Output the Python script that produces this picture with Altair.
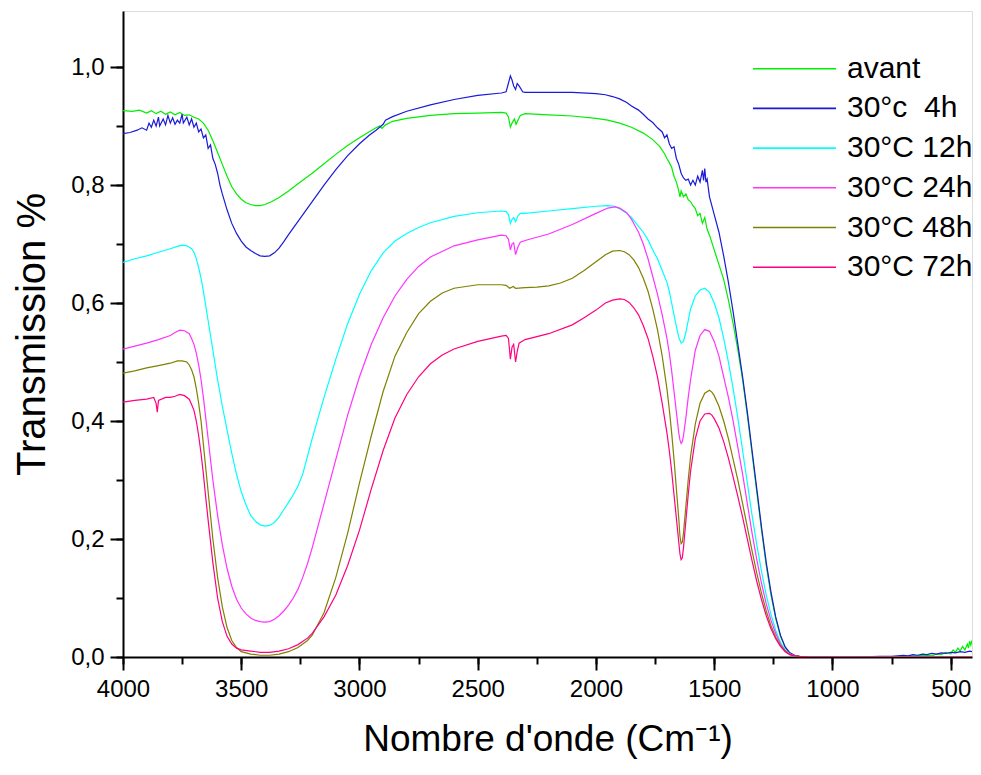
import altair as alt
import pandas as pd

SERIES = ["avant", "30°c \u00a04h", "30°C 12h", "30°C 24h", "30°C 48h", "30°C 72h"]
COLORS = ["#00ee00", "#1a1ad8", "#00ffff", "#ff33ff", "#808000", "#ff0080"]

X_TICKS = [4000, 3500, 3000, 2500, 2000, 1500, 1000, 500]
X_MINOR = [4000, 3750, 3500, 3250, 3000, 2750, 2500, 2250, 2000, 1750, 1500, 1250, 1000, 750, 500]
Y_TICKS = [0.0, 0.2, 0.4, 0.6, 0.8, 1.0]
Y_MINOR = [0.0, 0.1, 0.2, 0.3, 0.4, 0.5, 0.6, 0.7, 0.8, 0.9, 1.0]

# (wavenumber cm-1, transmission)
AVANT = [(4000,0.926),(3960,0.925),(3930,0.927),(3900,0.922),(3880,0.926),(3860,0.921),(3840,0.925),(3820,0.920),(3800,0.924),(3780,0.919),(3760,0.923),(3740,0.918),(3720,0.919),(3700,0.915),(3680,0.912),(3660,0.905),(3640,0.893),(3620,0.875),(3600,0.855),(3580,0.835),(3560,0.815),(3540,0.797),(3520,0.785),(3500,0.776),(3480,0.770),(3460,0.767),(3440,0.765),(3420,0.765),(3400,0.767),(3370,0.772),(3340,0.779),(3300,0.790),(3250,0.805),(3200,0.820),(3150,0.836),(3100,0.852),(3050,0.867),(3000,0.880),(2960,0.890),(2930,0.897),(2915,0.900),(2905,0.896),(2890,0.902),(2860,0.908),(2800,0.913),(2700,0.918),(2600,0.921),(2500,0.922),(2400,0.923),(2380,0.922),(2370,0.915),(2362,0.898),(2355,0.905),(2345,0.912),(2338,0.903),(2330,0.910),(2320,0.918),(2300,0.921),(2200,0.919),(2100,0.917),(2000,0.913),(1950,0.910),(1900,0.905),(1850,0.898),(1800,0.888),(1760,0.877),(1730,0.865),(1710,0.853),(1700,0.845),(1690,0.838),(1680,0.830),(1670,0.815),(1660,0.805),(1650,0.790),(1645,0.780),(1640,0.790),(1630,0.780),(1620,0.785),(1610,0.775),(1600,0.772),(1590,0.765),(1580,0.760),(1570,0.748),(1560,0.752),(1550,0.735),(1540,0.745),(1530,0.725),(1520,0.715),(1500,0.690),(1480,0.665),(1460,0.640),(1440,0.605),(1420,0.565),(1400,0.520),(1380,0.470),(1360,0.410),(1340,0.345),(1320,0.280),(1300,0.215),(1280,0.155),(1260,0.105),(1240,0.065),(1220,0.035),(1200,0.016),(1180,0.006),(1160,0.002),(1140,0.001),(1100,0.0),(1000,0.0),(900,0.0),(800,0.0),(700,0.001),(650,0.002),(600,0.003),(580,0.002),(560,0.005),(540,0.004),(520,0.008),(500,0.005),(490,0.012),(480,0.008),(470,0.015),(460,0.010),(450,0.018),(440,0.012),(430,0.022),(425,0.015),(420,0.027),(415,0.020),(410,0.028)]

H4 = [(4000,0.887),(3970,0.889),(3940,0.893),(3920,0.897),(3900,0.893),(3890,0.905),(3880,0.898),(3870,0.910),(3860,0.900),(3850,0.915),(3845,0.900),(3830,0.912),(3820,0.902),(3810,0.918),(3800,0.905),(3790,0.914),(3780,0.903),(3770,0.910),(3760,0.905),(3750,0.920),(3745,0.905),(3730,0.915),(3720,0.902),(3710,0.912),(3700,0.898),(3690,0.905),(3680,0.890),(3670,0.895),(3660,0.880),(3650,0.885),(3640,0.862),(3630,0.868),(3620,0.845),(3610,0.835),(3600,0.820),(3590,0.800),(3580,0.785),(3560,0.758),(3540,0.735),(3520,0.718),(3500,0.705),(3480,0.695),(3460,0.689),(3440,0.684),(3420,0.680),(3400,0.679),(3380,0.680),(3360,0.685),(3340,0.693),(3320,0.704),(3300,0.716),(3250,0.744),(3200,0.772),(3150,0.800),(3100,0.826),(3050,0.850),(3000,0.870),(2960,0.884),(2930,0.893),(2915,0.898),(2900,0.903),(2890,0.910),(2860,0.916),(2800,0.925),(2700,0.936),(2600,0.945),(2500,0.952),(2400,0.956),(2380,0.958),(2372,0.970),(2362,0.985),(2355,0.978),(2348,0.968),(2340,0.962),(2333,0.972),(2325,0.968),(2310,0.958),(2300,0.957),(2200,0.957),(2100,0.957),(2000,0.955),(1960,0.953),(1930,0.950),(1900,0.946),(1870,0.940),(1850,0.934),(1820,0.927),(1800,0.920),(1780,0.912),(1760,0.906),(1740,0.897),(1720,0.890),(1710,0.880),(1700,0.885),(1690,0.870),(1680,0.862),(1670,0.865),(1660,0.845),(1650,0.835),(1640,0.820),(1630,0.812),(1620,0.808),(1610,0.810),(1600,0.800),(1590,0.808),(1580,0.800),(1570,0.815),(1560,0.805),(1550,0.825),(1545,0.808),(1540,0.828),(1535,0.805),(1530,0.810),(1520,0.780),(1500,0.750),(1480,0.720),(1460,0.680),(1440,0.635),(1420,0.585),(1400,0.530),(1380,0.475),(1360,0.415),(1340,0.350),(1320,0.285),(1300,0.220),(1280,0.160),(1260,0.110),(1240,0.068),(1220,0.037),(1200,0.017),(1180,0.007),(1160,0.003),(1140,0.001),(1100,0.0),(1000,0.0),(900,0.0),(800,0.001),(750,0.001),(700,0.003),(680,0.002),(660,0.004),(640,0.003),(620,0.005),(600,0.004),(580,0.006),(560,0.005),(540,0.007),(520,0.006),(500,0.008),(480,0.007),(460,0.009),(440,0.008),(420,0.010),(410,0.009)]

H12 = [(4000,0.669),(3950,0.675),(3900,0.680),(3850,0.686),(3800,0.692),(3770,0.696),(3750,0.698),(3730,0.697),(3710,0.692),(3700,0.686),(3690,0.675),(3680,0.660),(3670,0.642),(3660,0.620),(3650,0.595),(3640,0.570),(3620,0.520),(3600,0.470),(3580,0.425),(3560,0.385),(3540,0.345),(3520,0.310),(3500,0.280),(3480,0.258),(3460,0.240),(3440,0.230),(3420,0.224),(3400,0.222),(3380,0.223),(3360,0.228),(3340,0.237),(3320,0.250),(3300,0.262),(3280,0.275),(3260,0.290),(3240,0.310),(3220,0.340),(3200,0.370),(3150,0.440),(3100,0.505),(3050,0.565),(3000,0.615),(2950,0.655),(2900,0.685),(2850,0.705),(2800,0.718),(2750,0.728),(2700,0.736),(2600,0.747),(2500,0.753),(2400,0.756),(2380,0.755),(2370,0.750),(2362,0.735),(2355,0.742),(2348,0.745),(2340,0.738),(2330,0.748),(2320,0.752),(2300,0.752),(2200,0.756),(2100,0.760),(2000,0.764),(1950,0.765),(1920,0.764),(1900,0.760),(1870,0.752),(1850,0.745),(1820,0.730),(1800,0.720),(1780,0.707),(1760,0.690),(1740,0.675),(1720,0.655),(1700,0.635),(1690,0.620),(1680,0.600),(1670,0.580),(1660,0.560),(1650,0.542),(1640,0.532),(1630,0.535),(1620,0.550),(1610,0.570),(1600,0.590),(1580,0.612),(1560,0.622),(1540,0.625),(1520,0.618),(1500,0.600),(1480,0.575),(1460,0.540),(1440,0.500),(1420,0.455),(1400,0.405),(1380,0.350),(1360,0.295),(1340,0.240),(1320,0.190),(1300,0.145),(1280,0.105),(1260,0.072),(1240,0.045),(1220,0.025),(1200,0.012),(1180,0.005),(1160,0.002),(1140,0.001),(1100,0.0),(410,0.0)]

H24 = [(4000,0.522),(3950,0.527),(3900,0.532),(3850,0.538),(3800,0.545),(3780,0.550),(3760,0.554),(3740,0.553),(3720,0.548),(3710,0.540),(3700,0.530),(3690,0.515),(3680,0.495),(3670,0.470),(3660,0.440),(3650,0.405),(3640,0.370),(3620,0.300),(3600,0.240),(3580,0.190),(3560,0.150),(3540,0.120),(3520,0.098),(3500,0.083),(3480,0.073),(3460,0.066),(3440,0.062),(3420,0.060),(3400,0.059),(3380,0.060),(3360,0.064),(3340,0.070),(3320,0.078),(3300,0.088),(3280,0.100),(3260,0.115),(3240,0.135),(3220,0.158),(3200,0.185),(3150,0.260),(3100,0.335),(3050,0.410),(3000,0.475),(2950,0.530),(2900,0.575),(2850,0.612),(2800,0.640),(2750,0.662),(2700,0.678),(2600,0.697),(2500,0.707),(2400,0.715),(2380,0.714),(2370,0.708),(2362,0.690),(2355,0.700),(2348,0.702),(2340,0.682),(2330,0.695),(2320,0.703),(2300,0.706),(2200,0.717),(2100,0.733),(2000,0.752),(1950,0.761),(1920,0.763),(1900,0.761),(1870,0.753),(1850,0.742),(1820,0.720),(1800,0.700),(1780,0.675),(1760,0.645),(1740,0.615),(1720,0.580),(1700,0.540),(1690,0.515),(1680,0.485),(1670,0.450),(1660,0.415),(1650,0.380),(1645,0.368),(1640,0.362),(1635,0.365),(1630,0.375),(1620,0.405),(1610,0.440),(1600,0.470),(1580,0.520),(1560,0.545),(1540,0.555),(1520,0.552),(1500,0.535),(1480,0.510),(1460,0.475),(1440,0.440),(1420,0.400),(1400,0.355),(1380,0.310),(1360,0.260),(1340,0.210),(1320,0.165),(1300,0.125),(1280,0.090),(1260,0.062),(1240,0.040),(1220,0.022),(1200,0.011),(1180,0.005),(1160,0.002),(1140,0.001),(1100,0.0),(410,0.0)]

H48 = [(4000,0.481),(3950,0.485),(3900,0.490),(3850,0.494),(3800,0.498),(3770,0.502),(3750,0.502),(3730,0.500),(3720,0.495),(3710,0.487),(3700,0.475),(3690,0.455),(3680,0.430),(3670,0.400),(3660,0.360),(3650,0.320),(3640,0.280),(3620,0.200),(3600,0.135),(3580,0.085),(3560,0.050),(3540,0.028),(3520,0.016),(3500,0.009),(3460,0.005),(3420,0.003),(3380,0.003),(3340,0.005),(3300,0.009),(3260,0.016),(3220,0.028),(3200,0.037),(3150,0.075),(3100,0.135),(3050,0.210),(3000,0.295),(2950,0.375),(2900,0.450),(2850,0.510),(2800,0.550),(2750,0.582),(2700,0.603),(2650,0.617),(2600,0.625),(2500,0.631),(2400,0.631),(2380,0.630),(2365,0.625),(2350,0.628),(2340,0.625),(2300,0.626),(2250,0.627),(2200,0.629),(2150,0.634),(2100,0.642),(2050,0.655),(2000,0.670),(1960,0.682),(1930,0.688),(1900,0.689),(1880,0.687),(1860,0.682),(1840,0.673),(1820,0.660),(1800,0.642),(1780,0.620),(1760,0.590),(1740,0.555),(1720,0.510),(1700,0.455),(1690,0.420),(1680,0.380),(1670,0.335),(1660,0.285),(1650,0.235),(1645,0.205),(1640,0.192),(1635,0.195),(1630,0.210),(1620,0.255),(1610,0.300),(1600,0.340),(1580,0.395),(1560,0.430),(1540,0.447),(1520,0.452),(1510,0.449),(1500,0.443),(1480,0.425),(1460,0.400),(1440,0.370),(1420,0.335),(1400,0.300),(1380,0.260),(1360,0.220),(1340,0.180),(1320,0.142),(1300,0.108),(1280,0.078),(1260,0.053),(1240,0.034),(1220,0.020),(1200,0.010),(1180,0.004),(1160,0.002),(1140,0.001),(1100,0.0),(410,0.0)]

H72 = [(4000,0.432),(3950,0.435),(3900,0.437),(3870,0.440),(3860,0.430),(3855,0.415),(3850,0.435),(3820,0.440),(3800,0.440),(3780,0.442),(3760,0.445),(3740,0.443),(3720,0.437),(3710,0.428),(3700,0.418),(3690,0.400),(3680,0.375),(3670,0.345),(3660,0.310),(3650,0.270),(3640,0.232),(3620,0.160),(3600,0.100),(3580,0.060),(3560,0.035),(3540,0.022),(3520,0.015),(3500,0.012),(3460,0.010),(3420,0.008),(3380,0.008),(3340,0.010),(3300,0.014),(3260,0.021),(3220,0.032),(3200,0.040),(3150,0.068),(3100,0.105),(3050,0.155),(3000,0.215),(2950,0.285),(2900,0.350),(2850,0.405),(2800,0.445),(2750,0.475),(2700,0.497),(2650,0.512),(2600,0.522),(2500,0.535),(2400,0.544),(2380,0.545),(2370,0.540),(2362,0.505),(2355,0.525),(2348,0.530),(2340,0.500),(2333,0.518),(2325,0.532),(2300,0.538),(2200,0.548),(2100,0.563),(2050,0.575),(2000,0.588),(1960,0.600),(1930,0.605),(1900,0.607),(1880,0.606),(1860,0.601),(1840,0.592),(1820,0.580),(1800,0.562),(1780,0.540),(1760,0.510),(1740,0.475),(1720,0.430),(1700,0.380),(1690,0.350),(1680,0.315),(1670,0.275),(1660,0.235),(1650,0.195),(1645,0.175),(1640,0.165),(1635,0.168),(1630,0.185),(1620,0.230),(1610,0.275),(1600,0.315),(1580,0.370),(1560,0.400),(1540,0.412),(1520,0.413),(1510,0.410),(1500,0.404),(1480,0.388),(1460,0.365),(1440,0.337),(1420,0.305),(1400,0.272),(1380,0.237),(1360,0.200),(1340,0.163),(1320,0.128),(1300,0.097),(1280,0.070),(1260,0.048),(1240,0.031),(1220,0.018),(1200,0.009),(1180,0.004),(1160,0.002),(1140,0.001),(1100,0.0),(410,0.0)]

rows = []
for name, pts in zip(SERIES, [AVANT, H4, H12, H24, H48, H72]):
    for w, t in pts:
        rows.append({"serie": name, "wn": w, "tr": t})
df = pd.DataFrame(rows)

FONT = "Liberation Sans"
x_scale = alt.Scale(domain=[410, 4000], reverse=True, nice=False, zero=False)
y_scale = alt.Scale(domain=[0, 1.095], nice=False, zero=False)

axis_common = dict(
    domainColor="black", domainWidth=2, tickColor="black", tickWidth=2,
    labelFont=FONT, labelFontSize=24, labelColor="black",
    titleFont=FONT, titleFontWeight="normal", titleColor="black",
    grid=False,
)

lines = alt.Chart(df).mark_line(strokeWidth=1.2, clip=True).encode(
    x=alt.X("wn:Q", scale=x_scale,
            axis=alt.Axis(values=X_TICKS, format="d", tickSize=13, labelPadding=7,
                          title="Nombre d'onde (Cm\u207b\u00b9)", titlePadding=20, titleFontSize=37,
                          orient="bottom", labelFlush=False, labelOverlap=False, **axis_common)),
    y=alt.Y("tr:Q", scale=y_scale,
            axis=alt.Axis(values=Y_TICKS, labelExpr="replace(format(datum.value, '.1f'), '.', ',')",
                          tickSize=13, labelPadding=6, title="Transmission %", titlePadding=18,
                          titleFontSize=40,
                          orient="left", labelFlush=False, labelOverlap=False, **axis_common)),
    color=alt.Color("serie:N", scale=alt.Scale(domain=SERIES, range=COLORS),
                    legend=alt.Legend(title=None, orient="none", legendX=693, legendY=42.7,
                                      symbolType="M-15.6,0H1", symbolSize=100, symbolStrokeWidth=1.6,
                                      labelFont=FONT, labelFontSize=30, labelColor="black",
                                      labelOffset=1, rowPadding=9.7, padding=0, labelLimit=300)),
)

minor = alt.Chart(df).mark_line(opacity=0).encode(
    x=alt.X("wn:Q", scale=x_scale,
            axis=alt.Axis(values=X_MINOR, labels=False, title=None, domain=False, tickSize=7,
                          tickColor="black", tickWidth=2, grid=False, orient="bottom")),
    y=alt.Y("tr:Q", scale=y_scale,
            axis=alt.Axis(values=Y_MINOR, labels=False, title=None, domain=False, tickSize=7,
                          tickColor="black", tickWidth=2, grid=False, orient="left")),
    detail="serie:N",
)

chart = alt.layer(lines, minor).resolve_axis(x="independent", y="independent").properties(
    width=849, height=646,
    autosize=alt.AutoSizeParams(type="none"),
    padding={"left": 115, "top": 3, "right": 1, "bottom": 108},
).configure_view(stroke="black", strokeWidth=2).configure(background="white")

chart.save("out.html", embed_options={"renderer": "svg", "actions": False})
